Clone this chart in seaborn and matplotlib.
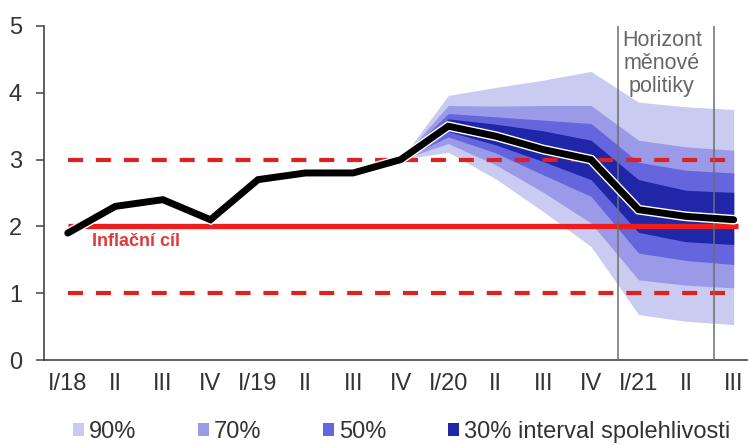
import numpy as np
import matplotlib.pyplot as plt
import matplotlib.patheffects as pe
from matplotlib.patches import Patch
import seaborn as sns

# --- data ---
quarters = ['I/18', 'II', 'III', 'IV', 'I/19', 'II', 'III', 'IV',
            'I/20', 'II', 'III', 'IV', 'I/21', 'II', 'III']
inflation = [1.9, 2.3, 2.4, 2.1, 2.7, 2.8, 2.8, 3.0,
             3.5, 3.35, 3.15, 3.0, 2.25, 2.15, 2.1]

# fan chart bands, from IV/19 (start of the forecast) to III/21
fan_start = 7
upper_90 = [3.0, 3.96, 4.08, 4.19, 4.32, 3.86, 3.79, 3.75]
upper_70 = [3.0, 3.81, 3.80, 3.81, 3.81, 3.29, 3.19, 3.14]
upper_50 = [3.0, 3.69, 3.64, 3.59, 3.54, 2.96, 2.84, 2.80]
upper_30 = [3.0, 3.61, 3.53, 3.43, 3.29, 2.70, 2.54, 2.51]
lower_30 = [3.0, 3.42, 3.22, 2.97, 2.70, 1.91, 1.77, 1.73]
lower_50 = [3.0, 3.34, 3.10, 2.77, 2.45, 1.60, 1.49, 1.43]
lower_70 = [3.0, 3.24, 2.92, 2.51, 2.05, 1.20, 1.12, 1.08]
lower_90 = [3.0, 3.11, 2.71, 2.22, 1.70, 0.68, 0.58, 0.53]

band_labels = ['90%', '70%', '50%', '30% interval spolehlivosti']
band_colors = ['#c9cbf1', '#9a9ae8', '#6565dd', '#2026a8']

target = 2.0
tolerance = [1.0, 3.0]
horizon = [11.56, 13.58]   # between IV/20|I/21 and II/21|III/21

# --- style ---
sns.set_theme(style='white')
plt.rcParams['font.family'] = ['Liberation Sans', 'DejaVu Sans']

fig = plt.figure(figsize=(7.49, 4.45), dpi=100)
ax = fig.add_axes([0.0587, 0.191, 0.938, 0.7506])

x = np.arange(len(quarters))
x_fan = x[fan_start:]

bands = [(lower_90, upper_90), (lower_70, upper_70),
         (lower_50, upper_50), (lower_30, upper_30)]
for (lo, hi), col in zip(bands, band_colors):
    ax.fill_between(x_fan, lo, hi, color=col, lw=0, zorder=1)

# tolerance band and target
for t in tolerance:
    ax.hlines(t, 0, 13.85, colors='#e0201c', lw=3,
              linestyles=(0, (3.6, 3.1)), zorder=2)
ax.hlines(target, 0, 14.1, colors='#ee1c1c', lw=3.8, zorder=2)
ax.text(0.51, 1.77, 'Inflační cíl', color='#e03a3a', fontsize=13,
        fontweight='bold', ha='left', va='center', zorder=5)

# policy horizon
for h in horizon:
    ax.axvline(h, color='#6e6e6e', lw=1.1, zorder=3)
ax.text(np.mean(horizon) - 0.08, 4.94, 'Horizont\nměnové\npolitiky',
        color='#666666', fontsize=15.5, ha='center', va='top',
        linespacing=1.13, zorder=5)

# main line
sns.lineplot(x=x, y=inflation, ax=ax, color='black', lw=5,
             solid_capstyle='round', solid_joinstyle='miter', zorder=4,
             path_effects=[pe.Stroke(linewidth=7, foreground='white'),
                           pe.Normal()])

# axes
ax.set_xlim(-0.5, 14.27)
ax.set_ylim(0, 5)
ax.set_yticks(range(0, 6))
ax.set_xticks(x)
ax.set_xticklabels(quarters)
sns.despine(ax=ax)
for s in ['left', 'bottom']:
    ax.spines[s].set_color('#444444')
    ax.spines[s].set_linewidth(1.2)
ax.tick_params(axis='y', left=True, length=5.8, width=1.1, color='#444444',
               pad=10, labelsize=17, labelcolor='#333333')
ax.tick_params(axis='x', bottom=False, length=0, pad=9.5, labelsize=17,
               labelcolor='#333333')
ax.grid(False)

# legend
handles = [Patch(facecolor=c, edgecolor='none') for c in band_colors]
fig.legend(handles, band_labels, loc='lower left',
           bbox_to_anchor=(73 / 749, 0.004), ncol=4, frameon=False,
           fontsize=17, handlelength=0.47, handleheight=0.47,
           handletextpad=0.21, columnspacing=2.6, borderpad=0,
           borderaxespad=0, labelcolor='#333333')

fig.savefig('out.png', dpi=100)
